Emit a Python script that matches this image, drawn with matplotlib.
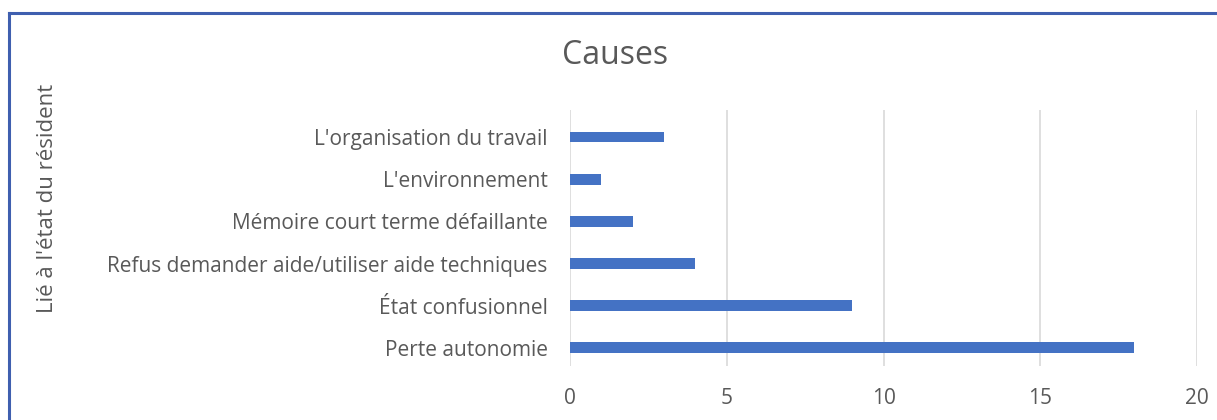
import matplotlib
matplotlib.use("Agg")
import matplotlib.pyplot as plt
from matplotlib.lines import Line2D

categories = [
    "Perte autonomie",
    "État confusionnel",
    "Refus demander aide/utiliser aide techniques",
    "Mémoire court terme défaillante",
    "L'environnement",
    "L'organisation du travail",
]
values = [18, 9, 4, 2, 1, 3]
xticks = [0, 5, 10, 15, 20]
title = "Causes"
ylabel = "Lié à l'état du résident"

plt.rcParams['font.family'] = ['Open Sans', 'DejaVu Sans']
text_color = "#595959"

fig = plt.figure(figsize=(12.17, 4.2), dpi=100)
W, H = 1217, 420
ax = fig.add_axes([570 / W, (H - 366) / H, (1197 - 570) / W, (366 - 110) / H])

ypos = list(range(len(categories)))
ax.barh(ypos, values, height=0.26, color="#4472C4", zorder=3)
ax.set_yticks(ypos)
ax.set_yticklabels(categories, fontsize=15, color=text_color)
ax.set_xticks(xticks)
ax.set_xticklabels([str(t) for t in xticks], fontsize=15, color=text_color)
ax.set_xlim(0, 20)
ax.set_ylim(-0.43, 5.64)
ax.tick_params(axis="both", length=0)
ax.tick_params(axis="y", pad=16)
ax.tick_params(axis="x", pad=16)
ax.grid(axis="x", color="#D9D9D9", linewidth=1.2, zorder=0)
for s in ax.spines.values():
    s.set_visible(False)

fig.text(615 / W, 1 - 56 / H, title, fontsize=23, color=text_color, ha="center", va="center")
fig.text(48 / W, 1 - 198 / H, ylabel, fontsize=16, color=text_color, ha="center", va="center", rotation=90)

# chart border (top and left edges visible)
fig.add_artist(Line2D([9 / W, 1.0], [1 - 13 / H, 1 - 13 / H], transform=fig.transFigure, color="#3F5FAF", linewidth=2.2))
fig.add_artist(Line2D([9 / W, 9 / W], [0, 1 - 13 / H], transform=fig.transFigure, color="#3F5FAF", linewidth=2.2))

fig.savefig("out.png", dpi=100)
